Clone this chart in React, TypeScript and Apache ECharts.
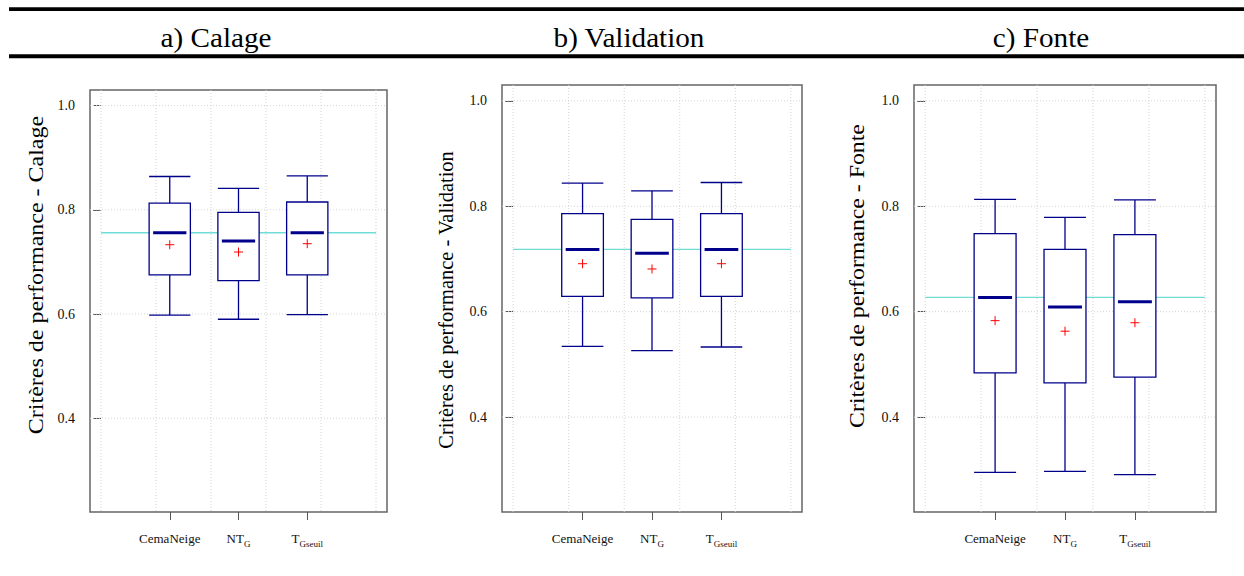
import React, { useEffect, useRef } from "react";
import * as echarts from "echarts";

// ---- data ----
const categoryLabels = ["CemaNeige", "NT{sub|G}", "T{sub|Gseuil}"];
const positions = [1, 2, 3];

// [lower whisker, Q1, median, Q3, upper whisker]
const calageBoxes = [
  [0.598, 0.675, 0.756, 0.813, 0.864],
  [0.59, 0.664, 0.74, 0.795, 0.841],
  [0.599, 0.675, 0.756, 0.815, 0.865],
];
const calageMeans = [0.733, 0.719, 0.735];

const validationBoxes = [
  [0.534, 0.629, 0.718, 0.786, 0.844],
  [0.526, 0.626, 0.711, 0.775, 0.829],
  [0.533, 0.629, 0.718, 0.786, 0.845],
];
const validationMeans = [0.691, 0.681, 0.691];

const fonteBoxes = [
  [0.295, 0.484, 0.627, 0.748, 0.813],
  [0.297, 0.465, 0.609, 0.718, 0.779],
  [0.291, 0.476, 0.619, 0.746, 0.812],
];
const fonteMeans = [0.583, 0.563, 0.579];

const panelTitles = ["a) Calage", "b) Validation", "c) Fonte"];
const yAxisTitles = [
  "Critères de performance - Calage",
  "Critères de performance - Validation",
  "Critères de performance - Fonte",
];
const yTicks = [0.4, 0.6, 0.8, 1.0];
const xGrid = [0, 0.8, 1.6, 2.4, 3.2, 4.0];
const yRange = [0.22, 1.03];
const xRange = [-0.16, 4.16];
const refSpan = [0, 4];

// ---- layout ----
const grids = [
  { left: 90, top: 90, width: 297, height: 422 },
  { left: 502, top: 85, width: 300, height: 427 },
  { left: 914, top: 85, width: 302, height: 427 },
];
const titleX = [216, 629, 1041];
const ylabPos = [
  { x: 36, y: 275, sx: 1.2 },
  { x: 446, y: 300, sx: 1.02 },
  { x: 857, y: 276, sx: 1.19 },
];

const FONT = "Liberation Serif";
const BOX = "#00008B";
const HALF = 0.3;

export default function App() {
  const ref = useRef<HTMLDivElement>(null);
  useEffect(() => {
    if (!ref.current) return;
    const chart = echarts.init(ref.current, null, { renderer: "svg" });
    const panels = [
      { boxes: calageBoxes, means: calageMeans },
      { boxes: validationBoxes, means: validationMeans },
      { boxes: fonteBoxes, means: fonteMeans },
    ];

    const series: any[] = [];
    panels.forEach((p, i) => {
      // vertical dotted grid
      series.push({
        type: "custom",
        xAxisIndex: i,
        yAxisIndex: i,
        silent: true,
        z: 1,
        data: xGrid.map((g) => [g, yRange[0]]),
        renderItem: (params: any, api: any) => {
          const cs = params.coordSys;
          const pt = api.coord([api.value(0), api.value(1)]);
          return {
            type: "line",
            shape: { x1: pt[0], y1: cs.y, x2: pt[0], y2: cs.y + cs.height },
            style: { stroke: "#d4d4d4", lineWidth: 1, lineDash: [1, 2] },
          };
        },
      });
      // horizontal dotted grid
      series.push({
        type: "custom",
        xAxisIndex: i,
        yAxisIndex: i,
        silent: true,
        z: 1,
        data: yTicks.map((g) => [xRange[0], g]),
        renderItem: (params: any, api: any) => {
          const cs = params.coordSys;
          const pt = api.coord([api.value(0), api.value(1)]);
          return {
            type: "line",
            shape: { x1: cs.x, y1: pt[1], x2: cs.x + cs.width, y2: pt[1] },
            style: { stroke: "#d4d4d4", lineWidth: 1, lineDash: [1, 2] },
          };
        },
      });
      // reference line at median of first model
      const refVal = p.boxes[0][2];
      series.push({
        type: "line",
        xAxisIndex: i,
        yAxisIndex: i,
        silent: true,
        z: 2,
        symbol: "none",
        data: refSpan.map((x) => [x, refVal]),
        lineStyle: { color: "#6FDDD5", width: 1.3 },
      });
      // boxes
      series.push({
        type: "custom",
        xAxisIndex: i,
        yAxisIndex: i,
        silent: true,
        z: 3,
        encode: { x: 0, y: [1, 2, 3, 4, 5] },
        data: positions.map((x, k) => [x, ...p.boxes[k], p.means[k]]),
        renderItem: (params: any, api: any) => {
          const x = api.value(0);
          const lo = api.coord([x, api.value(1)]);
          const q1 = api.coord([x, api.value(2)]);
          const md = api.coord([x, api.value(3)]);
          const q3 = api.coord([x, api.value(4)]);
          const hi = api.coord([x, api.value(5)]);
          const mn = api.coord([x, api.value(6)]);
          const xl = api.coord([x - HALF, api.value(3)])[0];
          const xr = api.coord([x + HALF, api.value(3)])[0];
          const cx = lo[0];
          const st = { stroke: BOX, lineWidth: 1.3 };
          return {
            type: "group",
            children: [
              { type: "line", shape: { x1: cx, y1: lo[1], x2: cx, y2: q1[1] }, style: st },
              { type: "line", shape: { x1: cx, y1: q3[1], x2: cx, y2: hi[1] }, style: st },
              { type: "line", shape: { x1: xl, y1: lo[1], x2: xr, y2: lo[1] }, style: st },
              { type: "line", shape: { x1: xl, y1: hi[1], x2: xr, y2: hi[1] }, style: st },
              {
                type: "rect",
                shape: { x: xl, y: q3[1], width: xr - xl, height: q1[1] - q3[1] },
                style: { fill: "#ffffff", stroke: BOX, lineWidth: 1.3 },
              },
              {
                type: "line",
                shape: { x1: xl + 4, y1: md[1], x2: xr - 4, y2: md[1] },
                style: { stroke: BOX, lineWidth: 3 },
              },
              {
                type: "line",
                shape: { x1: cx - 4.5, y1: mn[1], x2: cx + 4.5, y2: mn[1] },
                style: { stroke: "#FF0000", lineWidth: 1 },
              },
              {
                type: "line",
                shape: { x1: cx, y1: mn[1] - 4.5, x2: cx, y2: mn[1] + 4.5 },
                style: { stroke: "#FF0000", lineWidth: 1 },
              },
            ],
          };
        },
      });
    });

    const graphic: any[] = [
      {
        type: "line",
        shape: { x1: 9, y1: 9.2, x2: 1244, y2: 9.2 },
        style: { stroke: "#000", lineWidth: 3.8 },
      },
      {
        type: "line",
        shape: { x1: 9, y1: 56.3, x2: 1244, y2: 56.3 },
        style: { stroke: "#000", lineWidth: 4 },
      },
    ];
    panelTitles.forEach((t, i) => {
      graphic.push({
        type: "text",
        x: titleX[i],
        y: 38,
        scaleX: 1.08,
        style: {
          text: t,
          fontFamily: FONT,
          fontSize: 27,
          fill: "#000",
          textAlign: "center",
          textVerticalAlign: "middle",
        },
      });
    });
    yAxisTitles.forEach((t, i) => {
      graphic.push({
        type: "text",
        x: ylabPos[i].x,
        y: ylabPos[i].y,
        rotation: Math.PI / 2,
        scaleX: ylabPos[i].sx,
        style: {
          text: t,
          fontFamily: FONT,
          fontSize: 20,
          fill: "#000",
          textAlign: "center",
          textVerticalAlign: "middle",
        },
      });
    });

    chart.setOption({
      animation: false,
      backgroundColor: "#ffffff",
      grid: grids.map((g) => ({
        ...g,
        show: true,
        borderColor: "#666",
        borderWidth: 1.5,
        backgroundColor: "transparent",
      })),
      xAxis: grids.map((_, i) => ({
        type: "value",
        gridIndex: i,
        min: xRange[0],
        max: xRange[1],
        axisLine: { show: false },
        splitLine: { show: false },
        axisTick: {
          show: true,
          customValues: positions,
          length: 8,
          lineStyle: { color: "#555", width: 1 },
        },
        axisLabel: {
          show: true,
          customValues: positions,
          margin: 16,
          fontFamily: FONT,
          fontSize: 13,
          lineHeight: 20,
          color: "#111",
          formatter: (v: number) => categoryLabels[positions.indexOf(Math.round(v))] ?? "",
          rich: {
            sub: {
              fontFamily: FONT,
              fontSize: 9,
              color: "#111",
              lineHeight: 12,
              verticalAlign: "bottom",
            },
          },
        },
      })),
      yAxis: grids.map((_, i) => ({
        type: "value",
        gridIndex: i,
        min: yRange[0],
        max: yRange[1],
        axisLine: { show: false },
        splitLine: { show: false },
        axisTick: {
          show: true,
          customValues: yTicks,
          length: 8,
          lineStyle: { color: "#555", width: 1 },
        },
        axisLabel: {
          show: true,
          customValues: yTicks,
          margin: 15,
          fontFamily: FONT,
          fontSize: 14,
          color: "#111",
          formatter: (v: number) => v.toFixed(1),
        },
      })),
      series,
      graphic,
    });
    return () => chart.dispose();
  }, []);
  return (
    <div
      ref={ref}
      style={{ position: "absolute", left: 0, top: 0, width: 1244, height: 576 }}
    />
  );
}
